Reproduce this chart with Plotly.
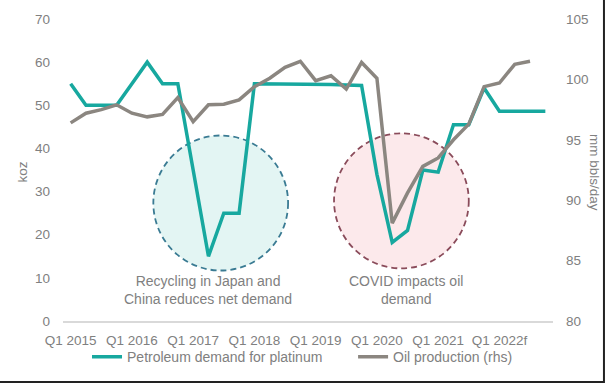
import plotly.graph_objects as go

# ---- data ----
years = [2015, 2016, 2017, 2018, 2019, 2020, 2021, 2022]
quarters = [f"Q{q} {y}{'f' if y == 2022 else ''}" for y in years for q in range(1, 5)]

platinum_demand = [55, 50, 50, 50, 55, 60, 55, 55, 35, 15, 25, 25,
                   55, 55, 55, 55, 54.8, 54.8, 54.7, 54.6, 34, 18.2, 21, 35,
                   34.5, 45.5, 45.5, 54, 48.6, 48.6, 48.6, 48.6]
oil_production = [96.4, 97.2, 97.5, 97.9, 97.2, 96.9, 97.1, 98.5, 96.5, 97.9, 97.95, 98.3,
                  99.4, 100.1, 101.0, 101.5, 99.9, 100.3, 99.2, 101.4, 100.1, 88.1, 90.6, 92.8,
                  93.5, 95.0, 96.3, 99.4, 99.7, 101.25, 101.5]

tick_labels = ["Q1 2015", "Q1 2016", "Q1 2017", "Q1 2018", "Q1 2019", "Q1 2020", "Q1 2021", "Q1 2022f"]
tick_positions = [quarters[i] for i in range(0, 32, 4)]

notes = ["Recycling in Japan and<br>China reduces net demand", "COVID impacts oil<br>demand"]

TEAL = "#17a89f"
GREY = "#8b8680"
TXT = "#808080"
FONT = "Liberation Sans, Arial, sans-serif"

fig = go.Figure()
fig.add_trace(go.Scatter(x=quarters, y=platinum_demand, mode="lines",
                         name="Petroleum demand for platinum", legend="legend",
                         line=dict(color=TEAL, width=3.5)))
fig.add_trace(go.Scatter(x=quarters[:len(oil_production)], y=oil_production, mode="lines",
                         name="Oil production (rhs)", yaxis="y2", legend="legend2",
                         line=dict(color=GREY, width=3.5)))

# highlight circles (annotation decorations)
fig.add_shape(type="circle", xref="x", yref="y", x0=5.4, x1=14.2, y0=11.7, y1=43.0,
              fillcolor="#e3f5f3", line=dict(color="#3a7b93", width=1.8, dash="6px,4px"),
              layer="below")
fig.add_shape(type="circle", xref="x", yref="y", x0=17.2, x1=26.0, y0=12.2, y1=43.5,
              fillcolor="#fce9eb", line=dict(color="#8a4b5a", width=1.8, dash="6px,4px"),
              layer="below")

# border at right and bottom of picture
fig.add_shape(type="path", xref="paper", yref="paper",
              path="M 1.104 1.07 L 1.104 -0.202 L -0.14 -0.202",
              line=dict(color="#222222", width=2))

fig.add_annotation(x=8.95, y=7.2, xref="x", yref="y", text=notes[0], showarrow=False,
                   font=dict(size=14, color=TXT, family=FONT), align="center")
fig.add_annotation(x=21.93, y=7.2, xref="x", yref="y", text=notes[1], showarrow=False,
                   font=dict(size=14, color=TXT, family=FONT), align="center")

fig.add_annotation(x=-0.083, y=0.493, xref="paper", yref="paper", text="koz", textangle=-90,
                   xanchor="center", yanchor="middle",
                   showarrow=False, font=dict(size=13.5, color=TXT, family=FONT))
fig.add_annotation(x=1.086, y=0.493, xref="paper", yref="paper", text="mm bbls/day", textangle=90,
                   xanchor="center", yanchor="middle",
                   showarrow=False, font=dict(size=13.5, color=TXT, family=FONT))

leg_common = dict(orientation="h", yanchor="middle", y=-0.12, xanchor="left",
                  font=dict(size=14, color=TXT, family=FONT), bgcolor="rgba(0,0,0,0)")

fig.update_layout(
    width=608, height=384,
    margin=dict(l=63, r=55, t=19, b=63, autoexpand=False),
    paper_bgcolor="white", plot_bgcolor="white",
    font=dict(family=FONT, size=13.5, color=TXT),
    showlegend=True,
    legend=dict(x=0.049, **leg_common),
    legend2=dict(x=0.592, **leg_common),
    xaxis=dict(type="category", categoryorder="array", categoryarray=quarters,
               range=[-0.5, 31.5], tickmode="array", tickvals=tick_positions, ticktext=tick_labels,
               showgrid=False, zeroline=False, showline=True, linecolor="#d9d9d9", linewidth=1.5,
               ticks="", ticklabelstandoff=6, tickfont=dict(size=13.5, color=TXT), automargin=False),
    yaxis=dict(range=[0, 70], dtick=10, showgrid=False, zeroline=False, showline=False,
               ticks="", ticklabelstandoff=12, tickfont=dict(size=13.5, color=TXT), automargin=False),
    yaxis2=dict(range=[80, 105], dtick=5, overlaying="y", side="right", showgrid=False,
                zeroline=False, showline=False, ticks="", ticklabelstandoff=12,
                tickfont=dict(size=13.5, color=TXT), automargin=False),
)

fig.write_html("out.html", config={"displayModeBar": False},
               post_script="document.body.style.margin='0px';document.body.style.overflow='hidden';")
